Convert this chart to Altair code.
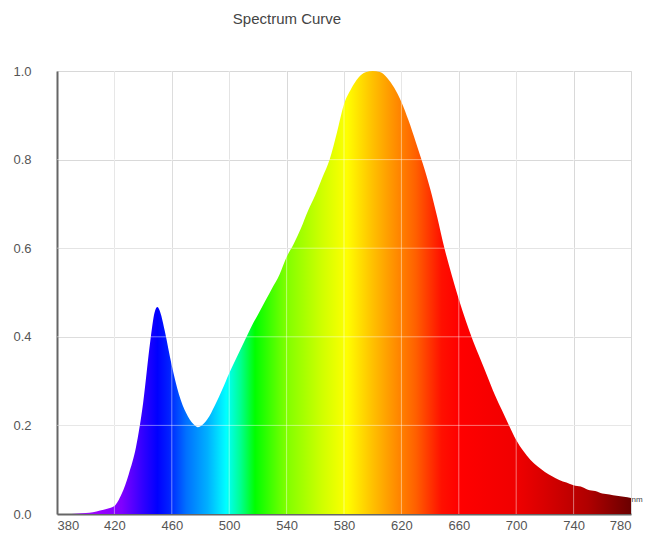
import altair as alt
import pandas as pd

wavelength = [380, 385, 390, 395, 400, 405, 410, 415, 420, 425, 430, 435, 440, 445, 448, 450,
              452, 455, 460, 465, 470, 475, 478, 480, 485, 490, 495, 500, 505, 510, 515, 520,
              525, 530, 535, 540, 545, 550, 555, 560, 565, 570, 575, 580, 585, 590, 595, 600,
              605, 610, 615, 620, 625, 630, 635, 640, 645, 650, 655, 660, 665, 670, 675, 680,
              685, 690, 695, 700, 705, 710, 715, 720, 725, 730, 735, 740, 745, 750, 755, 760,
              765, 770, 775, 780]
intensity = [0.0, 0.0, 0.0, 0.001, 0.002, 0.004, 0.008, 0.012, 0.018, 0.045, 0.09, 0.15, 0.25,
             0.39, 0.455, 0.467, 0.455, 0.415, 0.335, 0.27, 0.228, 0.203, 0.196, 0.198, 0.215,
             0.245, 0.28, 0.318, 0.352, 0.386, 0.42, 0.45, 0.48, 0.51, 0.54, 0.58, 0.61, 0.645,
             0.685, 0.72, 0.76, 0.8, 0.86, 0.925, 0.96, 0.985, 0.997, 1.0, 0.998, 0.985, 0.962,
             0.93, 0.888, 0.84, 0.79, 0.735, 0.67, 0.6, 0.54, 0.485, 0.435, 0.39, 0.35, 0.31,
             0.27, 0.235, 0.2, 0.167, 0.142, 0.122, 0.107, 0.095, 0.085, 0.077, 0.071, 0.065,
             0.062, 0.055, 0.052, 0.046, 0.044, 0.041, 0.039, 0.036]

x_ticks = [380, 420, 460, 500, 540, 580, 620, 660, 700, 740, 780]
y_ticks = [0.0, 0.2, 0.4, 0.6, 0.8, 1.0]

# spectrum colour stops: (wavelength nm, colour)
stop_wl = [380, 410, 425, 440, 450, 458, 470, 485, 498, 508, 518, 540, 565, 582, 600, 615,
           630, 648, 660, 700, 720, 750, 780]
stop_col = ["#9a30e0", "#9900ff", "#8000ff", "#3000ff", "#0000ff", "#0020ff", "#0070ff",
            "#00b0ff", "#00ffff", "#00ff90", "#00ff00", "#80ff00", "#d0ff00", "#ffff00",
            "#ffc000", "#ff9000", "#ff6000", "#ff1000", "#ff0000", "#f00000", "#d80000",
            "#b00000", "#6a0000"]

df = pd.DataFrame({"wl": wavelength, "v": intensity})
grid_x = pd.DataFrame({"wl": x_ticks[1:-1]})
grid_y = pd.DataFrame({"v": y_ticks[1:-1]})

font = "Liberation Sans"
xs = alt.Scale(domain=[380, 780], nice=False, zero=False)
ys = alt.Scale(domain=[0, 1], nice=False)

gradient = alt.Gradient(
    gradient="linear", x1=0, x2=1, y1=0, y2=0,
    stops=[alt.GradientStop(offset=(w - 380) / 400, color=c) for w, c in zip(stop_wl, stop_col)],
)

area = alt.Chart(df).mark_area(color=gradient, interpolate="monotone").encode(
    x=alt.X("wl:Q", scale=xs, axis=alt.Axis(values=x_ticks, title=None, grid=True,
                                           gridColor="#d8d8d8", ticks=False, labelPadding=5,
                                           domainColor="#666", domainWidth=2,
                                           labelFont=font, labelFontSize=13, labelColor="#555")),
    y=alt.Y("v:Q", scale=ys, axis=alt.Axis(values=y_ticks, format=".1f", title=None, grid=True,
                                          gridColor="#d8d8d8", ticks=False, labelPadding=26,
                                          domainColor="#666", domainWidth=2,
                                          labelFont=font, labelFontSize=13, labelColor="#555")),
)

vrules = alt.Chart(grid_x).mark_rule(color="white", opacity=0.45, strokeWidth=1).encode(
    x=alt.X("wl:Q", scale=xs)
)
hrules = alt.Chart(grid_y).mark_rule(color="white", opacity=0.45, strokeWidth=1).encode(
    y=alt.Y("v:Q", scale=ys)
)

label_df = pd.DataFrame({"t": ["Spectrum Curve"], "u": ["nm"]})
title = alt.Chart(label_df).mark_text(font=font, fontSize=15, color="#444", align="center",
                                      baseline="middle").encode(
    text="t:N", x=alt.value(230), y=alt.value(-52)
)
unit = alt.Chart(label_df).mark_text(font=font, fontSize=8, color="#444", align="left",
                                     baseline="middle").encode(
    text="u:N", x=alt.value(574.5), y=alt.value(429)
)

chart = alt.layer(area, vrules, hrules, title, unit).properties(
    width=574, height=443,
    padding={"left": 49, "top": 63, "right": 12, "bottom": 18},
    autosize=alt.AutoSizeParams(type="none"),
).configure_view(stroke="#888", strokeWidth=2).configure(background="white")

chart.save("out.html", embed_options={"renderer": "svg", "actions": False})
